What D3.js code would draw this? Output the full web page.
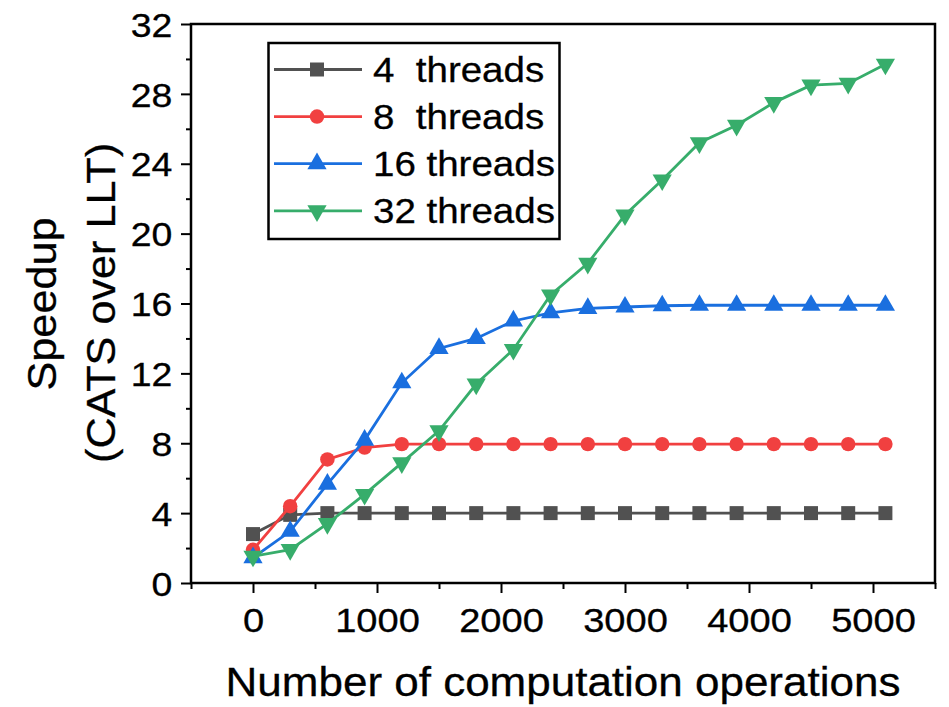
<!DOCTYPE html>
<html>
<head>
<meta charset="utf-8">
<script src="https://cdn.jsdelivr.net/npm/d3@7"></script>
<style>
  html, body { margin: 0; padding: 0; background: #fff; }
  svg text { font-family: "Liberation Sans", Arial, sans-serif; fill: #000; stroke: #000; stroke-width: 0.3px; }
</style>
</head>
<body>
<svg id="chart" width="949" height="707"></svg>
<script>
// values
const ops = [0, 300, 600, 900, 1200, 1500, 1800, 2100, 2400, 2700, 3000, 3300, 3600, 3900, 4200, 4500, 4800, 5100];
const threads4 = [2.8, 3.9, 4.0, 4.0, 4.0, 4.0, 4.0, 4.0, 4.0, 4.0, 4.0, 4.0, 4.0, 4.0, 4.0, 4.0, 4.0, 4.0];
const threads8 = [1.9, 4.4, 7.07, 7.75, 7.95, 7.95, 7.95, 7.95, 7.95, 7.95, 7.95, 7.95, 7.95, 7.95, 7.95, 7.95, 7.95, 7.95];
const threads16 = [1.45, 2.96, 5.66, 8.18, 11.46, 13.43, 14.0, 15.0, 15.47, 15.72, 15.8, 15.87, 15.9, 15.9, 15.9, 15.9, 15.9, 15.9];
const threads32 = [1.53, 1.91, 3.4, 5.07, 6.88, 8.71, 11.39, 13.37, 16.49, 18.3, 21.07, 23.07, 25.2, 26.2, 27.5, 28.5, 28.6, 29.7];

const seriesNames = ['4  threads', '8  threads', '16 threads', '32 threads'];
const xTicks = [0, 1000, 2000, 3000, 4000, 5000];
const xMinorTicks = [-500, 500, 1500, 2500, 3500, 4500, 5500];
const yTicks = [0, 4, 8, 12, 16, 20, 24, 28, 32];
const yMinorTicks = [2, 6, 10, 14, 18, 22, 26, 30];

const series = [
  { name: seriesNames[0], values: threads4, color: '#515151', symbol: d3.symbolSquare, size: 196, rot: 0 },
  { name: seriesNames[1], values: threads8, color: '#F14040', symbol: d3.symbolCircle, size: 165, rot: 0 },
  { name: seriesNames[2], values: threads16, color: '#1A6FDF', symbol: d3.symbolTriangle, size: 160, rot: 0 },
  { name: seriesNames[3], values: threads32, color: '#37AD6B', symbol: d3.symbolTriangle, size: 160, rot: 180 },
];

const svg = d3.select('#chart');
const plotL = 191, plotR = 935, plotT = 24, plotB = 583;

const x = d3.scaleLinear().domain([-500, 5500]).range([plotL, plotR]);
const y = d3.scaleLinear().domain([0, 32]).range([plotB, plotT]);

// axes
const gx = svg.append('g').attr('transform', `translate(0,${plotB})`);
gx.call(d3.axisBottom(x).tickValues(xMinorTicks).tickSize(6).tickSizeOuter(0).tickFormat(''));
gx.select('.domain').remove();
const gxMaj = svg.append('g').attr('transform', `translate(0,${plotB})`);
gxMaj.call(d3.axisBottom(x).tickValues(xTicks).tickSize(10).tickSizeOuter(0).tickFormat(d3.format('d')));
gxMaj.select('.domain').remove();
gxMaj.selectAll('text')
  .attr('y', 49).attr('dy', 0)
  .attr('font-size', 34)
  .attr('transform', 'scale(1.12,1)');

const gy = svg.append('g').attr('transform', `translate(${plotL},0)`);
gy.call(d3.axisLeft(y).tickValues(yMinorTicks).tickSize(5).tickSizeOuter(0).tickFormat(''));
gy.select('.domain').remove();
const gyMaj = svg.append('g').attr('transform', `translate(${plotL},0)`);
gyMaj.call(d3.axisLeft(y).tickValues(yTicks).tickSize(10).tickSizeOuter(0).tickFormat(d3.format('d')));
gyMaj.select('.domain').remove();
gyMaj.selectAll('text')
  .attr('x', -17).attr('dy', '0.36em')
  .attr('font-size', 34)
  .attr('transform', 'scale(1.1,1)');

svg.selectAll('.tick line').attr('stroke', '#000').attr('stroke-width', 2);

// frame
svg.append('rect')
  .attr('x', plotL).attr('y', plotT)
  .attr('width', plotR - plotL).attr('height', plotB - plotT)
  .attr('fill', 'none').attr('stroke', '#000').attr('stroke-width', 2.5);

// lines and markers
const line = d3.line().x((d, i) => x(ops[i])).y(d => y(d));

series.forEach(s => {
  svg.append('path')
    .datum(s.values)
    .attr('fill', 'none')
    .attr('stroke', s.color)
    .attr('stroke-width', 2.8)
    .attr('d', line);

  svg.append('g')
    .selectAll('path')
    .data(s.values)
    .enter()
    .append('path')
    .attr('d', d3.symbol().type(s.symbol).size(s.size))
    .attr('fill', s.color)
    .attr('transform', (d, i) => `translate(${x(ops[i])},${y(d)}) rotate(${s.rot})`);
});

// legend
const legend = svg.append('g');
legend.append('rect')
  .attr('x', 268.5).attr('y', 43)
  .attr('width', 291).attr('height', 196)
  .attr('fill', '#fff').attr('stroke', '#000').attr('stroke-width', 2.5);

series.forEach((s, i) => {
  const cy = 69.5 + i * 47.1;
  legend.append('line')
    .attr('x1', 274).attr('x2', 362)
    .attr('y1', cy).attr('y2', cy)
    .attr('stroke', s.color).attr('stroke-width', 2.8);
  legend.append('path')
    .attr('d', d3.symbol().type(s.symbol).size(s.size))
    .attr('fill', s.color)
    .attr('transform', `translate(317,${cy}) rotate(${s.rot})`);
  legend.append('text')
    .attr('transform', `translate(373,${cy + 12.5}) scale(1.1,1)`)
    .attr('font-size', 35)
    .style('white-space', 'pre')
    .text(s.name);
});

// axis titles
svg.append('text')
  .attr('transform', `translate(${(plotL + plotR) / 2},696) scale(1.1,1)`)
  .attr('text-anchor', 'middle')
  .attr('font-size', 40)
  .text('Number of computation operations');

svg.append('text')
  .attr('transform', 'translate(56,304) rotate(-90) scale(1.08,1)')
  .attr('text-anchor', 'middle')
  .attr('font-size', 40)
  .text('Speedup');

svg.append('text')
  .attr('transform', 'translate(115,303) rotate(-90) scale(1.08,1)')
  .attr('text-anchor', 'middle')
  .attr('font-size', 40)
  .text('(CATS over LLT)');
</script>
</body>
</html>
